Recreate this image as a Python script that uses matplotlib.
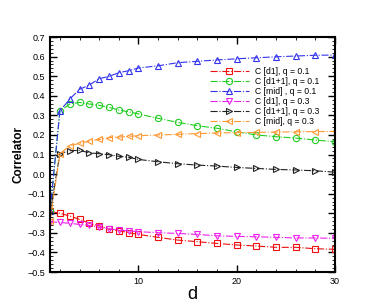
import matplotlib
matplotlib.use("Agg")
import matplotlib.pyplot as plt
from matplotlib.ticker import MultipleLocator

plt.rcParams["font.family"] = ["Liberation Sans", "DejaVu Sans"]

d = [1, 2, 3, 4, 5, 6, 7, 8, 9, 10, 12, 14, 16, 18, 20, 22, 24, 26, 28, 30]

d1_q01 = [-0.19, -0.20, -0.214, -0.231, -0.251, -0.264, -0.281, -0.289, -0.299, -0.308,
          -0.323, -0.337, -0.345, -0.354, -0.362, -0.367, -0.374, -0.374, -0.381, -0.384]
d1p1_q01 = [-0.19, 0.32, 0.358, 0.366, 0.358, 0.351, 0.341, 0.327, 0.318, 0.307,
            0.285, 0.264, 0.247, 0.234, 0.216, 0.20, 0.191, 0.184, 0.174, 0.165]
mid_q01 = [-0.19, 0.322, 0.383, 0.433, 0.455, 0.487, 0.499, 0.518, 0.528, 0.542,
           0.553, 0.569, 0.576, 0.583, 0.589, 0.594, 0.599, 0.603, 0.607, 0.608]
d1_q03 = [-0.243, -0.247, -0.251, -0.257, -0.262, -0.272, -0.279, -0.286, -0.29, -0.294,
          -0.299, -0.303, -0.308, -0.315, -0.318, -0.32, -0.323, -0.326, -0.326, -0.328]
d1p1_q03 = [-0.20, 0.104, 0.12, 0.121, 0.109, 0.104, 0.099, 0.091, 0.086, 0.075,
            0.063, 0.053, 0.046, 0.041, 0.034, 0.029, 0.024, 0.021, 0.017, 0.01]
mid_q03 = [-0.24, 0.104, 0.145, 0.157, 0.169, 0.177, 0.186, 0.189, 0.193, 0.196,
           0.20, 0.203, 0.207, 0.21, 0.212, 0.213, 0.215, 0.216, 0.217, 0.218]

series = [
    (d1_q01,   "C [d1], q = 0.1",    "#ee1111", "s"),
    (d1p1_q01, "C [d1+1], q = 0.1",  "#22cc22", "o"),
    (mid_q01,  "C [mid] , q = 0.1",  "#3333ee", "^"),
    (d1_q03,   "C [d1], q = 0.3",    "#ee22ee", "v"),
    (d1p1_q03, "C [d1+1], q = 0.3",  "#222222", ">"),
    (mid_q03,  "C [mid], q = 0.3",   "#ff9933", "<"),
]

fig = plt.figure(figsize=(3.82, 3.06), dpi=100)
ax = fig.add_axes([0.131, 0.111, 0.746, 0.768])

for vals, lab, col, mk in series:
    ax.plot(d, vals, color=col, linestyle="-.", linewidth=0.8, marker=mk,
            markersize=4.5, markerfacecolor="none", markeredgecolor=col,
            markeredgewidth=0.8, label=lab)

ax.set_xlim(1, 30)
ax.set_ylim(-0.5, 0.7)
ax.xaxis.set_major_locator(MultipleLocator(10))
ax.xaxis.set_minor_locator(MultipleLocator(2))
ax.yaxis.set_major_locator(MultipleLocator(0.1))
ax.yaxis.set_minor_locator(MultipleLocator(0.02))
ax.tick_params(which="both", direction="in", top=True, right=True, labelsize=6.5)
ax.tick_params(which="major", length=5, width=1)
ax.tick_params(which="minor", length=2.5, width=0.6)
for sp in ax.spines.values():
    sp.set_linewidth(1.5)

ax.set_xlabel("d", fontsize=13, labelpad=0)
ax.set_ylabel("Correlator", fontsize=8.5, fontweight="bold", labelpad=2)

ax.legend(loc="upper left", bbox_to_anchor=(210 / 382, 1 - 67 / 306),
          bbox_transform=fig.transFigure, frameon=False, borderpad=0,
          borderaxespad=0, fontsize=6.2, handlelength=4.5, labelspacing=0.12,
          handletextpad=0.7)

fig.savefig("out.png", dpi=100)
